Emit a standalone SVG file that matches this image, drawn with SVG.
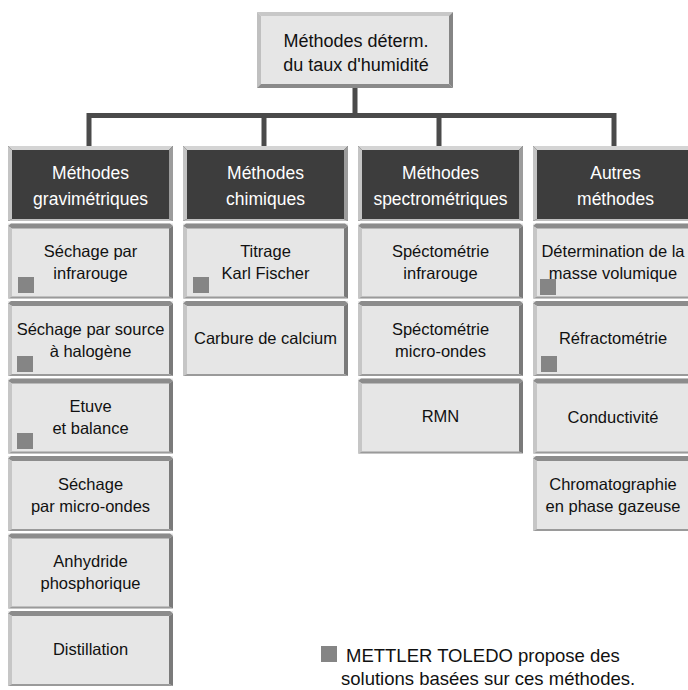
<svg xmlns="http://www.w3.org/2000/svg" width="688" height="690" viewBox="0 0 688 690">
<style>
text{font-family:"Liberation Sans",Arial,sans-serif;text-anchor:middle;}
.t{font-size:16.5px;fill:#111;}
.h{font-size:17.5px;fill:#fff;}
.top{font-size:18px;fill:#111;}
.leg{font-size:18.5px;fill:#111;text-anchor:start;}
.sq{fill:#858585;}
.conn{stroke:#4a4a4a;stroke-width:5;fill:none;}
</style>
<defs>
<g id="lb">
<rect width="165" height="75" fill="#e6e6e6"/>
<polygon points="0,2.5 3,0 162,0 165,2.5 161,5 4,5" fill="#8c8c8c"/>
<polygon points="0,2.5 4,5 4,73 0,75" fill="#c6c6c6"/>
<polygon points="165,2.5 165,75 161,73 161,5" fill="#7a7a7a"/>
<polygon points="0,75 165,75 161,73 4,73" fill="#9a9a9a"/>
</g>
<g id="db">
<rect width="165" height="75" fill="#3d3d3d"/>
<polygon points="0,0 165,0 161,4 4,4" fill="#d4d4d4"/>
<polygon points="0,0 4,4 4,73 0,75" fill="#c4c4c4"/>
<polygon points="165,0 165,75 161,73 161,4" fill="#9c9c9c"/>
<polygon points="0,75 165,75 161,73 4,73" fill="#c0c0c0"/>
</g>
</defs>
<g id="connectors">
<path class="conn" d="M355,88 V115.5 M89,115.5 H614 M89,113 V146 M264,113 V146 M439,113 V146 M614,113 V146"/>
</g>
<g id="root">
<rect x="257" y="12" width="196" height="76" fill="#e6e6e6"/>
<polygon points="257,12 453,12 449,16 261,16" fill="#c8c8c8"/>
<polygon points="257,12 261,16 261,84 257,88" fill="#c0c0c0"/>
<polygon points="453,12 453,88 449,84 449,16" fill="#858585"/>
<polygon points="257,88 453,88 449,84 261,84" fill="#8a8a8a"/>
<text class="top" x="356" y="47">Méthodes déterm.</text>
<text class="top" x="356" y="71">du taux d'humidité</text>
</g>
<g id="h1"><use href="#db" x="8" y="146"/><text class="h" x="90.5" y="179">Méthodes</text><text class="h" x="90.5" y="205">gravimétriques</text></g>
<g id="h2"><use href="#db" x="183" y="146"/><text class="h" x="265.5" y="179">Méthodes</text><text class="h" x="265.5" y="205">chimiques</text></g>
<g id="h3"><use href="#db" x="358" y="146"/><text class="h" x="440.5" y="179">Méthodes</text><text class="h" x="440.5" y="205">spectrométriques</text></g>
<g id="h4"><use href="#db" x="533" y="146"/><text class="h" x="615.5" y="179">Autres</text><text class="h" x="615.5" y="205">méthodes</text></g>

<g id="c1n1"><use href="#lb" x="8" y="223.5"/><text class="t" x="90.5" y="257">Séchage par</text><text class="t" x="90.5" y="279">infrarouge</text><rect class="sq" x="18" y="277" width="16" height="16"/></g>
<g id="c1n2"><use href="#lb" x="8" y="301"/><text class="t" x="90.5" y="334.5">Séchage par source</text><text class="t" x="90.5" y="356.5">à halogène</text><rect class="sq" x="17" y="356" width="16" height="16"/></g>
<g id="c1n3"><use href="#lb" x="8" y="378.5"/><text class="t" x="90.5" y="412">Etuve</text><text class="t" x="90.5" y="434">et balance</text><rect class="sq" x="17" y="433" width="16" height="16"/></g>
<g id="c1n4"><use href="#lb" x="8" y="456"/><text class="t" x="90.5" y="489.5">Séchage</text><text class="t" x="90.5" y="511.5">par micro-ondes</text></g>
<g id="c1n5"><use href="#lb" x="8" y="533.5"/><text class="t" x="90.5" y="567">Anhydride</text><text class="t" x="90.5" y="589">phosphorique</text></g>
<g id="c1n6"><use href="#lb" x="8" y="611"/><text class="t" x="90.5" y="655">Distillation</text></g>

<g id="c2n1"><use href="#lb" x="183" y="223.5"/><text class="t" x="265.5" y="257">Titrage</text><text class="t" x="265.5" y="279">Karl Fischer</text><rect class="sq" x="193" y="277" width="16" height="16"/></g>
<g id="c2n2"><use href="#lb" x="183" y="301"/><text class="t" x="265.5" y="344">Carbure de calcium</text></g>

<g id="c3n1"><use href="#lb" x="358" y="223.5"/><text class="t" x="440.5" y="257">Spéctométrie</text><text class="t" x="440.5" y="279">infrarouge</text></g>
<g id="c3n2"><use href="#lb" x="358" y="301"/><text class="t" x="440.5" y="334.5">Spéctométrie</text><text class="t" x="440.5" y="356.5">micro-ondes</text></g>
<g id="c3n3"><use href="#lb" x="358" y="378.5"/><text class="t" x="440.5" y="422">RMN</text></g>

<g id="c4n1"><use href="#lb" x="533" y="223.5"/><text class="t" x="613" y="257">Détermination de la</text><text class="t" x="613" y="279">masse volumique</text><rect class="sq" x="540" y="279" width="16" height="16"/></g>
<g id="c4n2"><use href="#lb" x="533" y="301"/><text class="t" x="613" y="344">Réfractométrie</text><rect class="sq" x="541" y="356" width="16" height="16"/></g>
<g id="c4n3"><use href="#lb" x="533" y="378.5"/><text class="t" x="613" y="422.5">Conductivité</text></g>
<g id="c4n4"><use href="#lb" x="533" y="456"/><text class="t" x="613" y="489.5">Chromatographie</text><text class="t" x="613" y="511.5">en phase gazeuse</text></g>

<g id="legend">
<rect class="sq" x="321" y="646" width="16" height="16"/>
<text class="leg" x="346" y="662">METTLER TOLEDO propose des</text>
<text class="leg" x="341" y="685">solutions basées sur ces méthodes.</text>
</g>
</svg>
